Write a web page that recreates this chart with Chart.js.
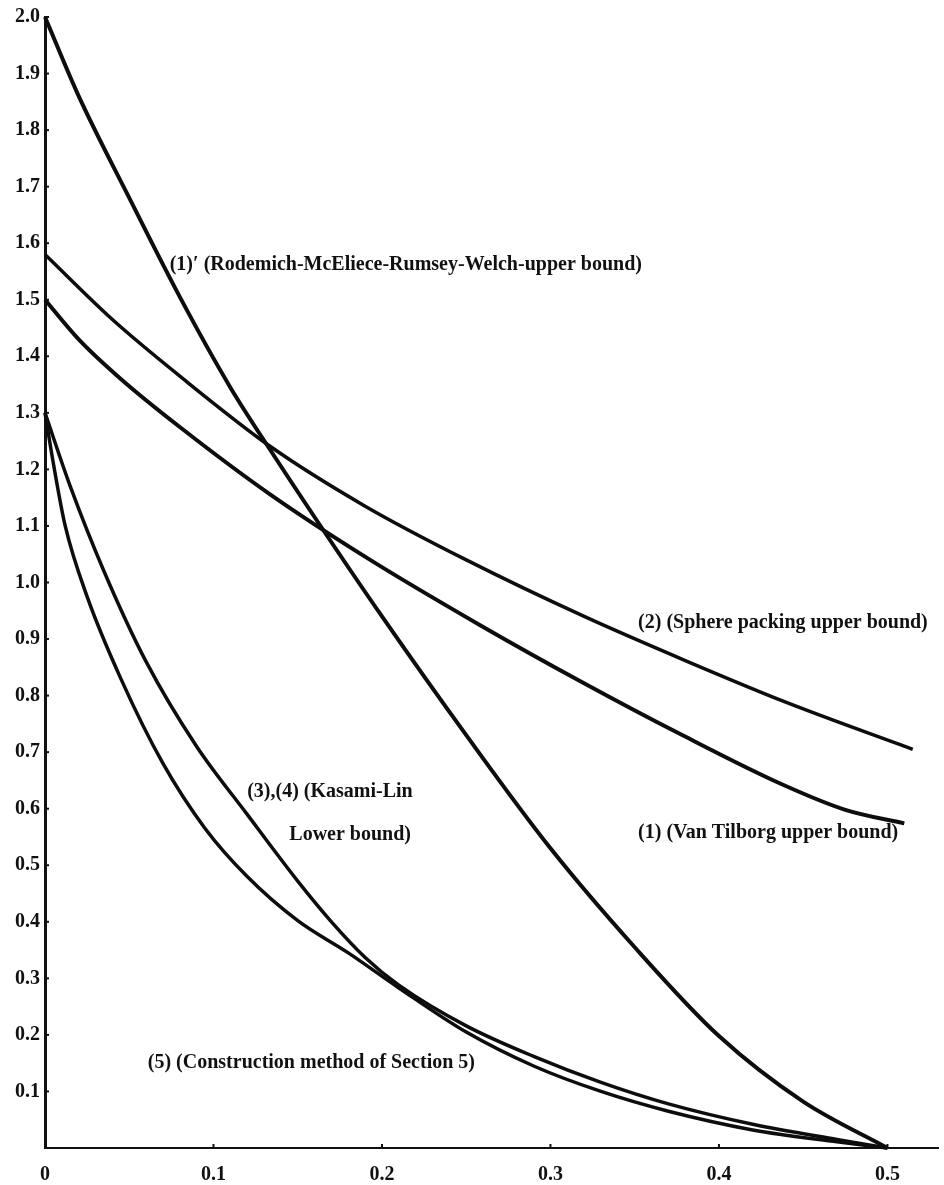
<!DOCTYPE html>
<html lang="en">
<head>
    <meta charset="UTF-8">
    <title>Bounds on d/n</title>
    <style>
        body {
            margin: 0;
            padding: 0;
            background-color: #ffffff;
        }
        #bounds-chart {
            display: block;
        }
    </style>
</head>
<body>
    <canvas id="bounds-chart" width="944" height="1185"></canvas>
    <script src="https://cdn.jsdelivr.net/npm/chart.js@4.4.1/dist/chart.umd.min.js"></script>
    <script>
        // tick values
        const xTicks = [0, 0.1, 0.2, 0.3, 0.4, 0.5];
        const yTicks = [0.1, 0.2, 0.3, 0.4, 0.5, 0.6, 0.7, 0.8, 0.9, 1.0,
                        1.1, 1.2, 1.3, 1.4, 1.5, 1.6, 1.7, 1.8, 1.9, 2.0];

        // (1)' Rodemich-McEliece-Rumsey-Welch upper bound
        const rmrwX = [0, 0.02, 0.05, 0.08, 0.11, 0.134, 0.168, 0.20, 0.25, 0.30, 0.35, 0.40, 0.45, 0.5];
        const rmrwY = [2.0, 1.86, 1.68, 1.505, 1.345, 1.233, 1.080, 0.94, 0.73, 0.53, 0.355, 0.198, 0.082, 0.0];

        // (2) sphere packing upper bound
        const sphereX = [0, 0.04, 0.08, 0.134, 0.19, 0.25, 0.32, 0.38, 0.44, 0.515];
        const sphereY = [1.58, 1.465, 1.365, 1.24, 1.135, 1.04, 0.94, 0.862, 0.788, 0.705];

        // (1) Van Tilborg upper bound
        const tilborgX = [0, 0.02, 0.045, 0.08, 0.134, 0.193, 0.258, 0.318, 0.377, 0.436, 0.475, 0.51];
        const tilborgY = [1.5, 1.43, 1.36, 1.275, 1.155, 1.04, 0.925, 0.825, 0.732, 0.645, 0.598, 0.574];

        // (3),(4) Kasami-Lin lower bound
        const kasamiX = [0, 0.015, 0.035, 0.06, 0.09, 0.12, 0.15, 0.17, 0.19, 0.21,
                         0.25, 0.29, 0.33, 0.37, 0.42, 0.47, 0.5];
        const kasamiY = [1.30, 1.17, 1.02, 0.86, 0.71, 0.59, 0.472, 0.400, 0.337, 0.288,
                         0.216, 0.162, 0.116, 0.078, 0.042, 0.015, 0.0];

        // (5) construction method of section 5
        const constrX = [0, 0.005, 0.012, 0.025, 0.045, 0.07, 0.095, 0.12, 0.15, 0.18, 0.21,
                         0.25, 0.29, 0.33, 0.37, 0.42, 0.47, 0.5];
        const constrY = [1.30, 1.21, 1.10, 0.975, 0.83, 0.68, 0.565, 0.48, 0.402, 0.345, 0.283,
                         0.205, 0.145, 0.10, 0.065, 0.032, 0.011, 0.0];

        // text labels placed in data coordinates
        const curveLabels = [
            { x: 0.074, y: 1.562, text: '(1)\u2032 (Rodemich-McEliece-Rumsey-Welch-upper bound)' },
            { x: 0.352, y: 0.929, text: '(2) (Sphere packing upper bound)' },
            { x: 0.352, y: 0.558, text: '(1) (Van Tilborg upper bound)' },
            { x: 0.120, y: 0.629, text: '(3),(4) (Kasami-Lin' },
            { x: 0.145, y: 0.553, text: 'Lower bound)' },
            { x: 0.061, y: 0.150, text: '(5) (Construction method of Section 5)' }
        ];

        const FONT = '"Liberation Serif", "Times New Roman", serif';

        function toPoints(xs, ys) {
            return xs.map((x, i) => ({ x: x, y: ys[i] }));
        }

        function curve(xs, ys, width) {
            return {
                data: toPoints(xs, ys),
                borderColor: '#0d0d0d',
                borderWidth: width,
                pointRadius: 0,
                fill: false,
                cubicInterpolationMode: 'monotone',
                clip: false
            };
        }

        // small inward tick marks + the curve labels
        const decorations = {
            id: 'decorations',
            afterDraw(chart) {
                const ctx = chart.ctx;
                const xs = chart.scales.x;
                const ys = chart.scales.y;
                const area = chart.chartArea;
                ctx.save();
                ctx.strokeStyle = '#111';
                ctx.lineWidth = 2;
                yTicks.forEach(v => {
                    const py = ys.getPixelForValue(v);
                    ctx.beginPath();
                    ctx.moveTo(area.left, py);
                    ctx.lineTo(area.left + 4, py);
                    ctx.stroke();
                });
                xTicks.slice(1).forEach(v => {
                    const px = xs.getPixelForValue(v);
                    ctx.beginPath();
                    ctx.moveTo(px, area.bottom);
                    ctx.lineTo(px, area.bottom - 4);
                    ctx.stroke();
                });

                ctx.fillStyle = '#111';
                ctx.font = 'bold 20px ' + FONT;
                ctx.textAlign = 'left';
                ctx.textBaseline = 'middle';
                curveLabels.forEach(l => {
                    ctx.fillText(l.text, xs.getPixelForValue(l.x), ys.getPixelForValue(l.y));
                });
                ctx.restore();
            }
        };

        new Chart(document.getElementById('bounds-chart'), {
            type: 'line',
            data: {
                datasets: [
                    curve(rmrwX, rmrwY, 4),
                    curve(sphereX, sphereY, 3.5),
                    curve(tilborgX, tilborgY, 4),
                    curve(kasamiX, kasamiY, 3.5),
                    curve(constrX, constrY, 3.5)
                ]
            },
            options: {
                responsive: false,
                animation: false,
                layout: {
                    padding: { top: 16, right: 6, left: 0, bottom: 0 }
                },
                plugins: {
                    legend: { display: false },
                    tooltip: { enabled: false }
                },
                scales: {
                    x: {
                        type: 'linear',
                        min: 0,
                        max: 0.53,
                        afterBuildTicks: scale => {
                            scale.ticks = xTicks.map(v => ({ value: v }));
                        },
                        afterFit: scale => {
                            scale.height = 37;
                        },
                        grid: { display: false, drawTicks: false },
                        border: { display: true, color: '#111', width: 2 },
                        ticks: {
                            color: '#111',
                            padding: 15,
                            maxRotation: 0,
                            font: { family: FONT, size: 20, weight: 'bold' },
                            callback: v => (v === 0 ? '0' : v.toFixed(1))
                        }
                    },
                    y: {
                        type: 'linear',
                        min: 0,
                        max: 2.0,
                        afterBuildTicks: scale => {
                            scale.ticks = yTicks.map(v => ({ value: v }));
                        },
                        afterFit: scale => {
                            scale.width = 45;
                        },
                        grid: { display: false, drawTicks: false },
                        border: { display: true, color: '#111', width: 3 },
                        ticks: {
                            color: '#111',
                            padding: 5,
                            font: { family: FONT, size: 20, weight: 'bold' },
                            callback: v => v.toFixed(1)
                        }
                    }
                }
            },
            plugins: [decorations]
        });
    </script>
</body>
</html>
